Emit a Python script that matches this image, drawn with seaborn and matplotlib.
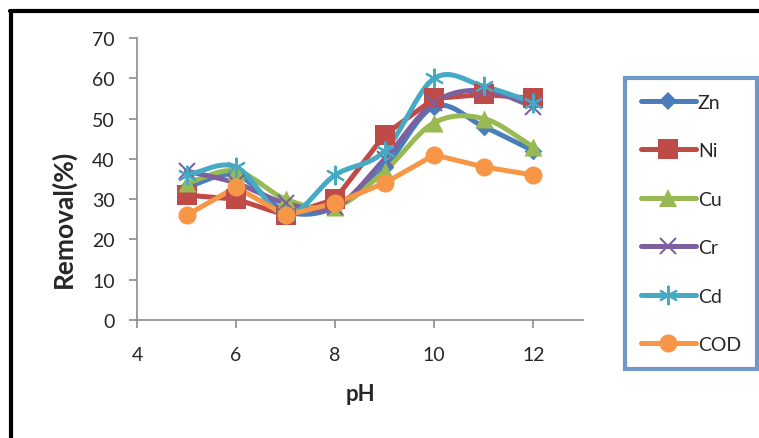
import numpy as np
import pandas as pd
import matplotlib
matplotlib.use("Agg")
import matplotlib.pyplot as plt
from matplotlib.lines import Line2D
import seaborn as sns

ph = [5, 6, 7, 8, 9, 10, 11, 12]
zn = [33, 36, 27, 28, 38, 53, 48, 42]
ni = [31, 30, 26, 30, 46, 55, 56, 55]
cu = [34, 37, 30, 28, 37, 49, 50, 43]
cr = [37, 34, 29, 28, 40, 54, 57, 53]
cd = [36, 38, 26, 36, 42, 60, 58, 54]
cod = [26, 33, 26, 29, 34, 41, 38, 36]

series = ["Zn", "Ni", "Cu", "Cr", "Cd", "COD"]
values = [zn, ni, cu, cr, cd, cod]
colors = ["#4A7EBB", "#BE4B48", "#98B954", "#7D60A0", "#46AAC5", "#F79646"]
markers = ["D", "s", "^", "x", (6, 2, 0), "o"]
msizes = [9, 14, 13, 12, 14, 13]
smooth = [True, False, True, True, True, False]


def catmull(x, y, n=20):
    # excel style smoothed line through the points
    x = np.asarray(x, float)
    y = np.asarray(y, float)
    px = np.concatenate([[2 * x[0] - x[1]], x, [2 * x[-1] - x[-2]]])
    py = np.concatenate([[2 * y[0] - y[1]], y, [2 * y[-1] - y[-2]]])
    xs, ys = [], []
    for i in range(1, len(px) - 2):
        t = np.linspace(0, 1, n, endpoint=False)
        for p, out in ((px, xs), (py, ys)):
            p0, p1, p2, p3 = p[i - 1], p[i], p[i + 1], p[i + 2]
            out.extend(0.5 * (2 * p1 + (-p0 + p2) * t
                              + (2 * p0 - 5 * p1 + 4 * p2 - p3) * t ** 2
                              + (-p0 + 3 * p1 - 3 * p2 + p3) * t ** 3))
    xs.append(x[-1])
    ys.append(y[-1])
    return np.array(xs), np.array(ys)


sns.set_style("white")
plt.rcParams["font.family"] = ["Lato", "DejaVu Sans"]

fig = plt.figure(figsize=(7.59, 4.39), dpi=100)
ax = fig.add_axes([0.1805, 0.2688, 0.5875, 0.6422])

handles = []
for name, vals, col, mk, ms, sm in zip(series, values, colors, markers, msizes, smooth):
    if sm:
        lx, ly = catmull(ph, vals)
    else:
        lx, ly = np.array(ph, float), np.array(vals, float)
    line_df = pd.DataFrame({"pH": lx, "v": ly})
    sns.lineplot(data=line_df, x="pH", y="v", ax=ax, color=col, linewidth=3.6,
                 sort=False, estimator=None)
    pts = pd.DataFrame({"pH": ph, "v": vals})
    if mk in ("x", (6, 2, 0)):
        ax.plot(pts["pH"], pts["v"], linestyle="none", marker=mk, markersize=ms,
                markeredgecolor=col, markeredgewidth=1.5, zorder=3)
    else:
        sns.scatterplot(data=pts, x="pH", y="v", ax=ax, color=col, marker=mk,
                        s=ms ** 2, edgecolor=col, linewidth=0, zorder=3)
    handles.append(Line2D([0], [0], color=col, linewidth=3.6, marker=mk,
                          markersize=ms, markerfacecolor=col, markeredgecolor=col,
                          markeredgewidth=1.5 if mk in ("x", (6, 2, 0)) else 0))

ax.set_xlim(4, 13)
ax.set_ylim(0, 70)
ax.set_xticks([4, 6, 8, 10, 12])
ax.set_yticks(range(0, 71, 10))
ax.set_xlabel("pH", fontsize=16, fontweight="bold", va="center")
ax.set_ylabel("Removal(%)", fontsize=19, fontweight="bold", va="center")
ax.xaxis.set_label_coords(0.5, -0.262)
ax.yaxis.set_label_coords(-0.166, 0.362)
ax.tick_params(axis="both", labelsize=14, length=6, width=1.2, color="#8C8C8C",
               direction="out", bottom=True, left=True)
ax.tick_params(axis="x", pad=13)
ax.tick_params(axis="y", pad=10)
for s in ["top", "right"]:
    ax.spines[s].set_visible(False)
for s in ["left", "bottom"]:
    ax.spines[s].set_color("#8C8C8C")
    ax.spines[s].set_linewidth(1.2)

leg = fig.legend(handles, series, loc="upper left", bbox_to_anchor=(0.8235, 0.82),
                 borderaxespad=0, fontsize=14, handlelength=2.85, handletextpad=0.1,
                 labelspacing=1.62, borderpad=0.8, frameon=True, fancybox=False)
leg.get_frame().set_edgecolor("#4A7EBB")
leg.get_frame().set_linewidth(3)

# outer black border (left and top only)
fig.add_artist(Line2D([11 / 759, 11 / 759], [0, 1 - 11.5 / 439], color="black",
                      linewidth=3, transform=fig.transFigure))
fig.add_artist(Line2D([9.5 / 759, 1], [1 - 11.5 / 439, 1 - 11.5 / 439], color="black",
                      linewidth=3, transform=fig.transFigure))

fig.savefig("out.png", dpi=100)
